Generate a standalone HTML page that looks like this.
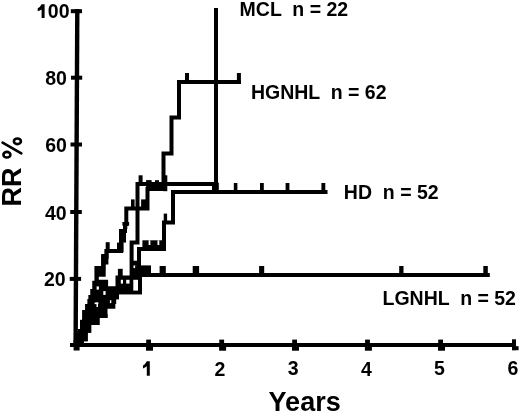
<!DOCTYPE html>
<html><head><meta charset="utf-8"><style>
html,body{margin:0;padding:0;background:#fff;width:520px;height:413px;overflow:hidden}
svg{display:block;filter:grayscale(1)}
text{font-family:"Liberation Sans",sans-serif;font-weight:bold;fill:#000}
</style></head><body>
<svg width="520" height="413" viewBox="0 0 520 413">
<!-- axes -->
<g stroke="#000" fill="none" stroke-linecap="butt">
<line x1="77.3" y1="9" x2="75.6" y2="347" stroke-width="4.4"/>
<line x1="70" y1="345" x2="516" y2="345" stroke-width="4.2"/>
<!-- y ticks -->
<line x1="70.8" y1="11.2" x2="82" y2="11.2" stroke-width="4"/>
<line x1="71" y1="77.7" x2="82.2" y2="77.7" stroke-width="4"/>
<line x1="70.5" y1="144.5" x2="82" y2="144.5" stroke-width="4"/>
<line x1="70.2" y1="212" x2="81.8" y2="212" stroke-width="4"/>
<line x1="69.7" y1="278.9" x2="81.1" y2="278.9" stroke-width="4"/>
<!-- x ticks -->
<line x1="76.6" y1="340" x2="76.6" y2="350.5" stroke-width="6"/>
<rect x="146.2" y="339.6" width="4.8" height="4" fill="#000" stroke="none"/><rect x="146.0" y="346.5" width="7" height="4.2" fill="#000" stroke="none"/>
<rect x="219.3" y="339.6" width="4.8" height="4" fill="#000" stroke="none"/><rect x="219.1" y="346.5" width="7" height="4.2" fill="#000" stroke="none"/>
<rect x="292.2" y="339.6" width="4.8" height="4" fill="#000" stroke="none"/><rect x="292.0" y="346.5" width="7" height="4.2" fill="#000" stroke="none"/>
<rect x="365.1" y="339.6" width="4.8" height="4" fill="#000" stroke="none"/><rect x="364.9" y="346.5" width="7" height="4.2" fill="#000" stroke="none"/>
<rect x="438.2" y="339.6" width="4.8" height="4" fill="#000" stroke="none"/><rect x="438.0" y="346.5" width="7" height="4.2" fill="#000" stroke="none"/>
<line x1="514" y1="339.3" x2="514" y2="350.2" stroke-width="4"/>
<rect x="512" y="346.2" width="6.6" height="4" fill="#000" stroke="none"/>
</g>

<!-- curves -->
<g id="curves" stroke="#000" fill="none" stroke-width="4" stroke-linejoin="miter" stroke-linecap="square">
<!-- HGNHL -->
<polyline points="76.5,344.5 80.9,344.5 80.9,331.4 82.4,331.4 82.4,321.7 84.3,321.7 84.3,312 87.2,312 87.2,306 89.6,306 89.6,301 90.6,301 90.6,297 92.5,297 92.5,291 94.5,291 94.5,283 96.7,283 96.7,268 103.2,268 103.2,257 106.6,257 106.6,251 121,251 121,231 125,231 125,224 126.3,224 126.3,208.5 147.5,208.5 147.5,189 163.5,189 163.5,153.5 171.5,153.5 171.5,117.5 179,117.5 179,81.9 239,81.9"/>
<!-- MCL -->
<polyline points="131.6,292 131.6,242.6 137.5,242.6 137.5,184 216,184 216,10"/>
<line x1="216" y1="184" x2="216" y2="190"/>
<!-- HD -->
<polyline points="117.5,290 117.5,277.5 139,277.5 139,249 164,249 164,222.5 173,222.5 173,192 325.5,192"/>
<!-- LGNHL -->
<polyline points="76.5,344.5 81.7,344.5 81.7,339.3 85.7,339.3 85.7,330.7 89.2,330.7 89.2,323 97.5,323 97.5,316 105.5,316 105.5,306.4 113.2,306.4 113.2,302 114.1,302 114.1,297.2 117,297.2 117,292.3 140,292.3 140,275 487.8,275"/>
</g>

<!-- censor ticks -->
<g fill="#000">
<!-- HGNHL -->
<rect x="185" y="73" width="4" height="9"/>
<rect x="236.9" y="73" width="4" height="9"/>
<rect x="146.1" y="180.1" width="5.5" height="8"/>
<rect x="155" y="180.2" width="4" height="8"/>
<rect x="131" y="199.4" width="3.6" height="9"/>
<rect x="141.1" y="199.4" width="5" height="9"/>
<rect x="105.7" y="242.2" width="4" height="9"/>
<!-- MCL -->
<rect x="149" y="185.5" width="15" height="2"/>
<rect x="212" y="182.7" width="6.8" height="8.3"/>
<rect x="138.6" y="175.3" width="4" height="9"/>
<rect x="163.5" y="175.3" width="3.8" height="15.9"/>
<!-- HD -->
<rect x="233.8" y="183" width="3.6" height="9"/>
<rect x="260" y="183" width="3.8" height="9"/>
<rect x="285.6" y="183" width="3.8" height="9"/>
<rect x="321.4" y="183" width="3.9" height="9"/>
<rect x="163.7" y="213.6" width="3.4" height="9"/>
<!-- LGNHL -->
<rect x="159.6" y="266" width="6.2" height="9"/>
<rect x="192.7" y="266" width="6.4" height="9"/>
<rect x="259.1" y="266" width="5.1" height="9"/>
<rect x="399.2" y="266" width="4.3" height="9"/>
<rect x="483.3" y="266" width="4.5" height="9"/>
<rect x="133" y="265.4" width="18" height="10.8"/>
<rect x="133" y="260.7" width="4.2" height="5"/>
<rect x="117.9" y="268.8" width="4.8" height="7.5"/>
</g>

<!-- dense mass -->
<polygon points="76.5,346 77,335 78,329 80,329 80,320 82.3,320 82.3,310 85.2,310 85.2,304 87.6,304 87.6,299 88.6,299 88.6,295 90.5,295 90.5,289 92.5,289 92.5,280.7 94.6,280.7 94.6,266 101.2,266 101.2,254 104.6,254 104.6,249 108.4,249 108.4,264.5 105.7,264.5 105.7,276.8 98.4,276.8 98.4,279.8 108.1,279.8 108.1,286.2 116.6,286.2 116.6,275.9 142,275.9 142,294.3 119,294.3 119,299.2 116.1,299.2 116.1,304 115.2,304 115.2,308.4 107,308.4 107,310 106,310 106,314 107.5,314 107.5,318 99.5,318 99.5,325 91.2,325 91.2,332.7 87.7,332.7 87.7,341.3 83.7,341.3 83.7,346" fill="#000"/>
<rect x="122.4" y="222" width="6.7" height="3.6" fill="#000"/>
<rect x="123" y="225.6" width="4.3" height="3.6" fill="#000"/>
<rect x="120" y="229" width="6" height="13.6" fill="#000"/>
<rect x="117" y="242.6" width="6.6" height="9.7" fill="#000"/>
<rect x="142.4" y="240.3" width="19.6" height="10.7" fill="#000"/>
<g fill="#fff">
<rect x="96.6" y="286.4" width="2.3" height="3.2"/>
<rect x="103.3" y="291.1" width="2.3" height="3.8"/>
<rect x="109.9" y="300.2" width="1.4" height="2.9"/>
<rect x="94.6" y="302.5" width="3.8" height="1.6"/>
<rect x="96.5" y="302.5" width="1.5" height="4.5"/>
<rect x="120.8" y="279.8" width="2.2" height="3.8"/>
<rect x="126.2" y="279.8" width="3.3" height="3.8"/>
<rect x="133.3" y="279.8" width="4.7" height="10.8"/>
<rect x="133.5" y="265.5" width="1.6" height="2.6"/>
<rect x="148.6" y="240.3" width="1.8" height="4.7"/>
<rect x="157.5" y="240.3" width="1.8" height="4.7"/>
</g>

<!-- labels -->
<path d="M41.6,4.3 L44.6,4.3 L44.6,18.1 L41.6,18.1 L41.6,9.4 Q39.9,10.6 37.7,11.3 L37.7,8.3 Q40.4,7 41.6,4.3 Z" fill="#000"/>
<text x="47.8" y="18.2" font-size="19.5">00</text>
<text x="45.2" y="84.8" font-size="19.5">80</text>
<text x="45.25" y="152.4" font-size="19.5">60</text>
<text x="45" y="219.6" font-size="19.5">40</text>
<text x="44" y="286.2" font-size="19.5">20</text>
<path d="M146.8,361.3 L149.8,361.3 L149.8,375.8 L146.8,375.8 L146.8,366.3 Q145.1,367.6 143,368.4 L143,365.4 Q145.6,364.1 146.8,361.3 Z" fill="#000"/>
<text x="214.6" y="375.8" font-size="19.5">2</text>
<text x="287.7" y="374.8" font-size="19.5">3</text>
<text x="361.1" y="375.5" font-size="19.5">4</text>
<text x="434" y="375.2" font-size="19.5">5</text>
<text x="507.4" y="374.8" font-size="19.5">6</text>
<text x="268.6" y="411.3" font-size="27">Years</text>
<text transform="translate(21,206.5) rotate(-90)" font-size="27">RR</text>
<g fill="none" stroke="#000"><ellipse cx="6.9" cy="154.7" rx="3.5" ry="2.8" stroke-width="2.6"/><ellipse cx="17.4" cy="141.3" rx="3.5" ry="2.8" stroke-width="2.6"/><line x1="2.6" y1="142.6" x2="21.3" y2="153.3" stroke-width="2.7" stroke-linecap="round"/></g>
<text x="239.6" y="16" font-size="19.5" xml:space="preserve">MCL  n = 22</text>
<text x="250.9" y="98.5" font-size="19.5" xml:space="preserve">HGNHL  n = 62</text>
<text x="343.8" y="199" font-size="19.5" xml:space="preserve">HD  n = 52</text>
<text x="382.5" y="304.8" font-size="19.5" xml:space="preserve">LGNHL  n = 52</text>
</svg>
</body></html>
